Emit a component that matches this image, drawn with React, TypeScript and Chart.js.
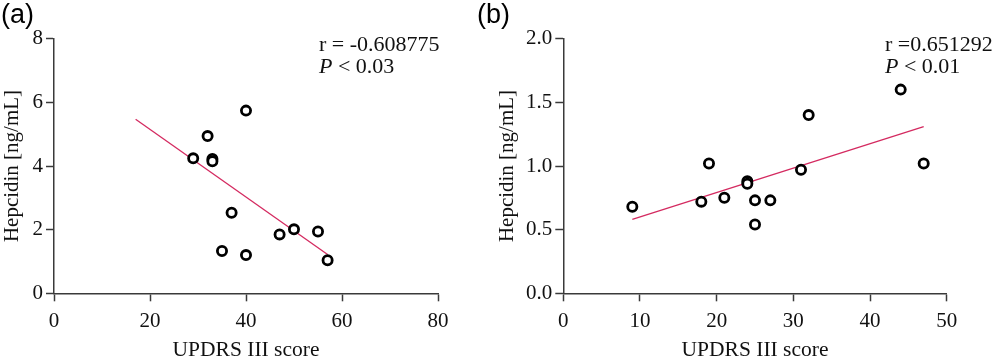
import React, { useEffect, useRef } from "react";
import { Chart, registerables } from "chart.js";

Chart.register(...registerables);

// ---- Panel (a) data ----
const scoreA = [29, 32, 33, 33, 40, 37, 35, 40, 47, 50, 55, 57];
const hepcidinA = [4.24, 4.94, 4.22, 4.15, 5.74, 2.53, 1.33, 1.2, 1.85, 2.01, 1.94, 1.04];
const fitXA = [17, 57];
const fitYA = [5.47, 1.22];
const rTextA = "r = -0.608775";
const pTextA = "0.03";

// ---- Panel (b) data ----
const scoreB = [9, 18, 19, 21, 24, 24, 25, 25, 27, 31, 32, 44, 47];
const hepcidinB = [0.68, 0.72, 1.02, 0.75, 0.88, 0.86, 0.73, 0.54, 0.73, 0.97, 1.4, 1.6, 1.02];
const fitXB = [9, 47];
const fitYB = [0.58, 1.31];
const rTextB = "r =0.651292";
const pTextB = "0.01";

const xTitle = "UPDRS III score";
const yTitle = "Hepcidin [ng/mL]";

const SERIF = '"Liberation Serif", "Times New Roman", serif';
const SANS = '"Liberation Sans", Arial, sans-serif';
const AXIS_COLOR = "#3a3a3a";
const TEXT_COLOR = "#111";
const FIT_COLOR = "#d42a60";

type PanelProps = {
  xs: number[];
  ys: number[];
  fx: number[];
  fy: number[];
  xMax: number;
  xStep: number;
  yMax: number;
  yStep: number;
  yDecimals: number;
  label: string;
  rText: string;
  pText: string;
  left: number;
  width: number;
  padLeft: number;
  yAxisWidth: number;
  padRight: number;
  annX: number;
  labelX: number;
};

function Panel(props: PanelProps) {
  const ref = useRef<HTMLCanvasElement | null>(null);
  useEffect(() => {
    if (!ref.current) return;
    const textPlugin = {
      id: "panelText",
      afterDraw(chart: any) {
        const ctx = chart.ctx;
        ctx.save();
        ctx.fillStyle = "#000";
        ctx.textBaseline = "alphabetic";
        ctx.textAlign = "left";
        ctx.font = `27px ${SANS}`;
        ctx.fillText(props.label, props.labelX, 23);
        ctx.fillStyle = TEXT_COLOR;
        ctx.font = `22px ${SERIF}`;
        ctx.fillText(props.rText, props.annX, 51);
        ctx.font = `italic 22px ${SERIF}`;
        ctx.fillText("P", props.annX, 73);
        const pw = ctx.measureText("P").width;
        ctx.font = `22px ${SERIF}`;
        ctx.fillText(" < " + props.pText, props.annX + pw, 73);
        ctx.restore();
      },
    };
    const chart = new Chart(ref.current, {
      type: "scatter",
      data: {
        datasets: [
          {
            data: props.xs.map((x, i) => ({ x, y: props.ys[i] })),
            pointRadius: 4.6,
            pointBorderWidth: 2.8,
            pointBorderColor: "#000",
            pointBackgroundColor: "#fff",
            showLine: false,
          },
          {
            data: props.fx.map((x, i) => ({ x, y: props.fy[i] })),
            showLine: true,
            borderColor: FIT_COLOR,
            borderWidth: 1.3,
            pointRadius: 0,
            fill: false,
          },
        ],
      },
      options: {
        animation: false,
        responsive: false,
        maintainAspectRatio: false,
        layout: { padding: { left: props.padLeft, right: props.padRight, top: 38.7, bottom: 0 } },
        plugins: { legend: { display: false }, tooltip: { enabled: false } },
        scales: {
          x: {
            type: "linear",
            min: 0,
            max: props.xMax,
            ticks: {
              stepSize: props.xStep,
              color: TEXT_COLOR,
              font: { family: SERIF, size: 21 },
              padding: 8,
              maxRotation: 0,
            },
            grid: { drawOnChartArea: false, drawTicks: true, tickLength: 8, tickColor: AXIS_COLOR, tickWidth: 1.5 },
            border: { display: true, color: AXIS_COLOR, width: 1.5 },
            title: { display: true, text: xTitle, color: TEXT_COLOR, font: { family: SERIF, size: 21.5 }, padding: { top: 0, bottom: -3 } },
            afterFit: (s: any) => {
              s.height = 66.7;
            },
          },
          y: {
            type: "linear",
            min: 0,
            max: props.yMax,
            ticks: {
              stepSize: props.yStep,
              color: TEXT_COLOR,
              font: { family: SERIF, size: 21 },
              padding: 3,
              callback: (v: any) => Number(v).toFixed(props.yDecimals),
            },
            grid: { drawOnChartArea: false, drawTicks: true, tickLength: 8, tickColor: AXIS_COLOR, tickWidth: 1.5 },
            border: { display: true, color: AXIS_COLOR, width: 1.5 },
            title: { display: true, text: yTitle, color: TEXT_COLOR, font: { family: SERIF, size: 21 }, padding: { top: 0, bottom: 0 } },
            afterFit: (s: any) => {
              s.width = props.yAxisWidth;
            },
          },
        },
      },
      plugins: [textPlugin],
    } as any);
    return () => chart.destroy();
  }, []);
  return (
    <canvas
      ref={ref}
      width={props.width}
      height={360}
      style={{ position: "absolute", left: props.left, top: 0, width: props.width, height: 360 }}
    />
  );
}

export default function App() {
  return (
    <div style={{ position: "absolute", left: 0, top: 0, width: 1000, height: 360, background: "#fff", overflow: "hidden" }}>
      <Panel
        xs={scoreA}
        ys={hepcidinA}
        fx={fitXA}
        fy={fitYA}
        xMax={80}
        xStep={20}
        yMax={8}
        yStep={2}
        yDecimals={0}
        label="(a)"
        rText={rTextA}
        pText={pTextA}
        left={0}
        width={460}
        padLeft={0}
        yAxisWidth={54}
        padRight={22}
        annX={319}
        labelX={1}
      />
      <Panel
        xs={scoreB}
        ys={hepcidinB}
        fx={fitXB}
        fy={fitYB}
        xMax={50}
        xStep={10}
        yMax={2}
        yStep={0.5}
        yDecimals={1}
        label="(b)"
        rText={rTextB}
        pText={pTextB}
        left={460}
        width={540}
        padLeft={34.4}
        yAxisWidth={68.9}
        padRight={53.3}
        annX={425}
        labelX={17}
      />
    </div>
  );
}
